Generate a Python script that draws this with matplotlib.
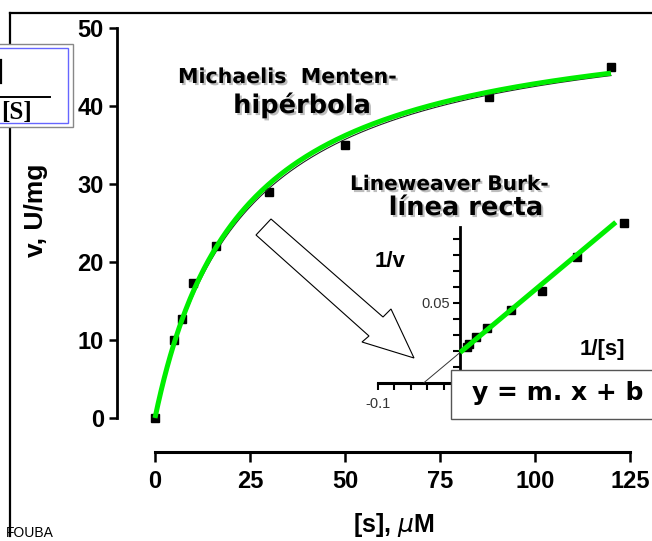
import numpy as np
import matplotlib
matplotlib.use("Agg")
import matplotlib.pyplot as plt
import matplotlib.patheffects as pe
from matplotlib.patches import Rectangle, Polygon
from matplotlib.lines import Line2D
from matplotlib import font_manager as fm

# ---------------- data ----------------
s_vals = [0, 5, 7, 10, 16, 30, 50, 88, 120]          # [s], uM
v_vals = [0, 10, 12.7, 17.3, 22, 29, 35, 41.2, 45]   # v, U/mg
vmax_fit = 52.5
km_fit = 22.5
vmax_thin = 52.5
km_thin = 23.5
x_ticks = [0, 25, 50, 75, 100, 125]
y_ticks = [0, 10, 20, 30, 40, 50]
inset_xticks = [-0.1, -0.08, -0.06, -0.04, -0.02, 0]
inset_xticklabels = ["-0.1", "", "", "", "", "0"]
inset_yticks = [0, 0.01, 0.02, 0.03, 0.04, 0.05, 0.06, 0.07, 0.08, 0.09]
inset_yticklabels = ["", "", "", "", "", "0.05", "", "", "", ""]

W, H = 652, 541
names = {f.name for f in fm.fontManager.ttflist}
narrow = "Liberation Sans Narrow" if "Liberation Sans Narrow" in names else "Liberation Sans"

fig = plt.figure(figsize=(W / 100, H / 100), dpi=100)
fig.patch.set_facecolor("white")


def fx(x):
    return x / W


def fy(y):
    return 1 - y / H


GREEN = "#00ee00"

# ---------------- main axes ----------------
ax = fig.add_axes([fx(117), fy(452), (649 - 117) / W, (452 - 20.2) / H])
ax.set_xlim(-10, 130)
ax.set_ylim(-4.36, 51)
ax.patch.set_alpha(0)
for sp in ["top", "right"]:
    ax.spines[sp].set_visible(False)
ax.spines["left"].set_bounds(0, 50)
ax.spines["bottom"].set_bounds(0, 125)
ax.spines["left"].set_linewidth(2.0)
ax.spines["bottom"].set_linewidth(2.2)
ax.set_xticks(x_ticks)
ax.set_yticks(y_ticks)
ax.tick_params(axis="y", direction="out", length=6, width=1.8, pad=3.5)
ax.tick_params(axis="x", direction="out", length=7, width=1.8, pad=6)
for lab in ax.get_xticklabels() + ax.get_yticklabels():
    lab.set_fontfamily(narrow)
    lab.set_fontweight("bold")
    lab.set_fontsize(17)

s_curve = np.linspace(0, 120, 300)
ax.plot(s_vals, v_vals, "s", color="black", ms=6, zorder=2, clip_on=False)
ax.plot(s_curve, vmax_thin * s_curve / (km_thin + s_curve), color="#222222", lw=0.8, zorder=3)
ax.plot(s_curve, vmax_fit * s_curve / (km_fit + s_curve), color=GREEN, lw=3.6,
        zorder=4, solid_capstyle="butt")

# ---------------- inset axes (Lineweaver-Burk) ----------------
iax = fig.add_axes([fx(373.9), fy(383), 274.7 / W, 168 / H])
iax.set_xlim(-0.105, 0.23)
iax.set_ylim(0, 0.105)
iax.patch.set_alpha(0)
for sp in ["top", "right"]:
    iax.spines[sp].set_visible(False)
iax.spines["left"].set_position(("data", 0))
iax.spines["left"].set_bounds(0, 0.0975)
iax.spines["bottom"].set_bounds(-0.1, 0.2)
iax.spines["left"].set_linewidth(2.0)
iax.spines["bottom"].set_linewidth(2.2)
iax.set_xticks(inset_xticks)
iax.set_xticklabels(inset_xticklabels)
iax.set_yticks(inset_yticks)
iax.set_yticklabels(inset_yticklabels)
iax.tick_params(axis="x", direction="out", length=5, width=1.5, pad=5, labelsize=10.5,
                labelcolor="#333333")
iax.tick_params(axis="y", direction="out", length=5, width=1.5, pad=2, labelsize=10.5,
                labelcolor="#333333")
for lab in iax.get_xticklabels() + iax.get_yticklabels():
    lab.set_fontfamily("Liberation Sans")

inv_s = [1.0 / s for s, v in zip(s_vals, v_vals) if s > 0]
inv_v = [1.0 / v for s, v in zip(s_vals, v_vals) if s > 0]
iax.plot(inv_s, inv_v, "s", color="black", ms=5.5, zorder=2, clip_on=False)
xr = np.array([-1.0 / km_fit, 0.0])
iax.plot(xr, (km_fit / vmax_fit) * xr + 1.0 / vmax_fit, color="#333333", lw=0.7, zorder=3)
xg = np.array([0.0, 0.19])
iax.plot(xg, (km_fit / vmax_fit) * xg + 1.0 / vmax_fit, color=GREEN, lw=3.6, zorder=4,
         solid_capstyle="butt")

# ---------------- decorations ----------------
# frame lines (top and left)
fig.add_artist(Line2D([fx(10), fx(652)], [fy(13), fy(13)], color="black", lw=1.6))
fig.add_artist(Line2D([fx(10), fx(10)], [fy(13), fy(536)], color="black", lw=1.6))

# hollow block arrow
arrow_px = [(271, 219), (383, 317), (391, 309), (414, 358), (362, 342), (369, 336), (256, 235)]
fig.add_artist(Polygon([(fx(x), fy(y)) for x, y in arrow_px], closed=True,
                       facecolor="white", edgecolor="black", lw=0.8, zorder=5))

# equation box
fig.add_artist(Rectangle((fx(451), fy(419)), (680 - 451) / W, (419 - 370) / H,
                         facecolor="white", edgecolor="#555555", lw=1.0, zorder=6))
fig.text(fx(472), fy(400), "y = m. x + b", fontsize=18, fontweight="bold",
         family="DejaVu Sans", ha="left", va="baseline", zorder=7)

# formula box (clipped at left)
fig.add_artist(Rectangle((fx(-5), fy(127)), 77.5 / W, (127 - 44) / H,
                         facecolor="white", edgecolor="#888888", lw=1.0, zorder=6))
fig.add_artist(Rectangle((fx(-5), fy(123)), 73 / W, (123 - 48) / H,
                         facecolor="none", edgecolor="#6666ff", lw=1.0, zorder=7))
fig.add_artist(Line2D([fx(1), fx(1)], [fy(60), fy(83)], color="black", lw=1.6, zorder=7))
fig.add_artist(Line2D([fx(0), fx(50)], [fy(97), fy(97)], color="black", lw=1.4, zorder=7))
fig.text(fx(1), fy(119), "[S]", fontsize=18, fontweight="bold", family="Liberation Serif",
         ha="left", va="baseline", zorder=8)

shadow = [pe.SimplePatchShadow(offset=(1.5, -1.5), shadow_rgbFace="#888888", alpha=0.55),
          pe.Normal()]

fig.text(fx(178), fy(83), "Michaelis  Menten-", fontsize=14.8, fontweight="bold",
         family="DejaVu Sans", ha="left", va="baseline", path_effects=shadow)
fig.text(fx(302), fy(113), "hipérbola", fontsize=18.5, fontweight="bold",
         family="DejaVu Sans", ha="center", va="baseline", path_effects=shadow)
fig.text(fx(350), fy(190), "Lineweaver Burk-", fontsize=14.5, fontweight="bold",
         family="DejaVu Sans", ha="left", va="baseline", path_effects=shadow)
fig.text(fx(466), fy(215), "línea recta", fontsize=18.5, fontweight="bold",
         family="DejaVu Sans", ha="center", va="baseline", path_effects=shadow)

fig.text(fx(375), fy(267), "1/v", fontsize=16, fontweight="bold", family=narrow,
         ha="left", va="baseline")
fig.text(fx(580), fy(355), "1/[s]", fontsize=16, fontweight="bold", family=narrow,
         ha="left", va="baseline")

fig.text(fx(394), fy(532), r"[s], $\mu$M", fontsize=18, fontweight="bold", family=narrow,
         ha="center", va="baseline")
fig.text(fx(36), fy(210), "v, U/mg", fontsize=19, fontweight="bold", family=narrow,
         rotation=90, ha="center", va="center")
fig.text(fx(6), fy(537), "FOUBA", fontsize=10, family="Liberation Sans",
         ha="left", va="baseline")

fig.savefig("out.png", dpi=100, facecolor="white")
